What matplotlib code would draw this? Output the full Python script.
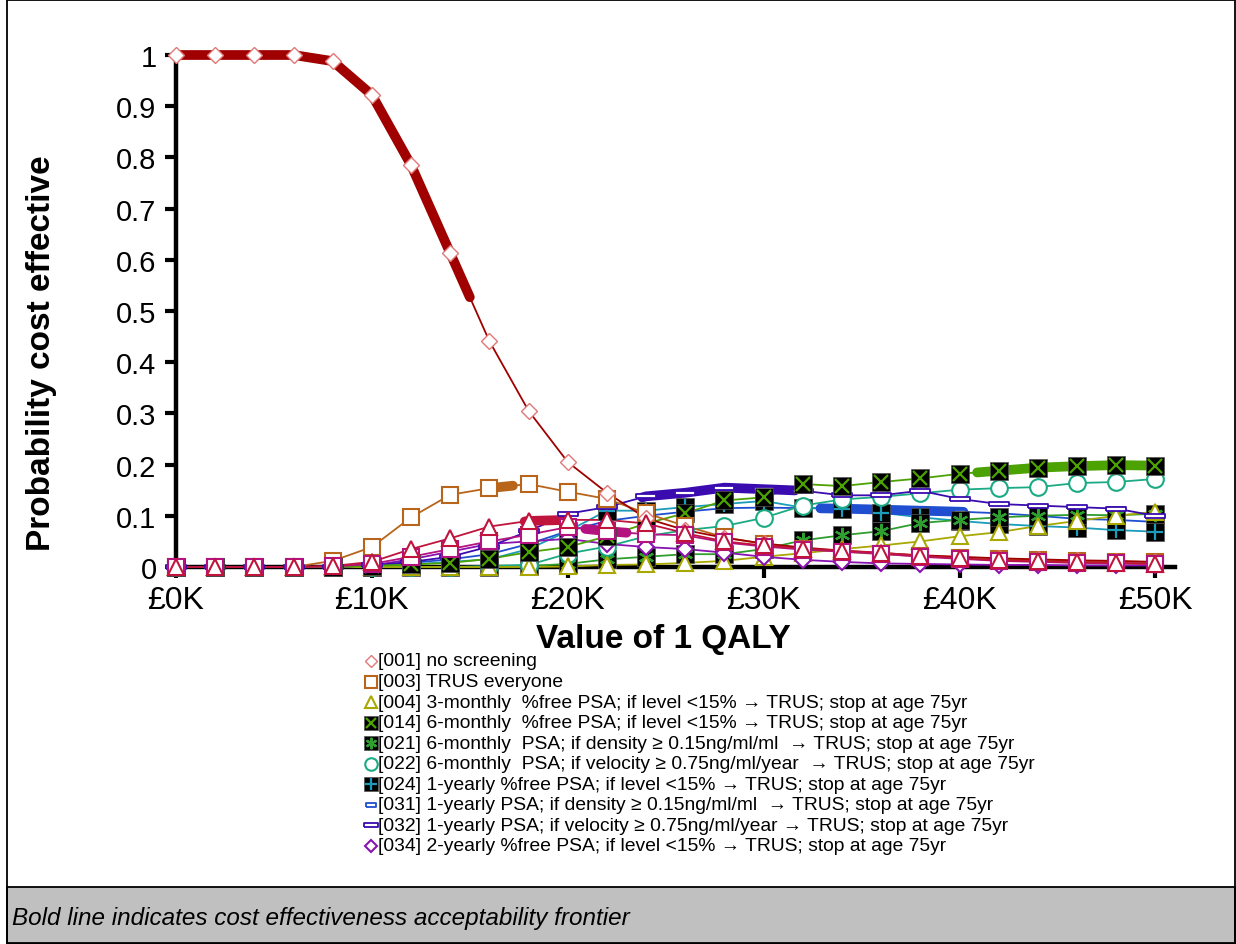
import numpy as np
import matplotlib
matplotlib.use("Agg")
import matplotlib.pyplot as plt
from matplotlib.patches import Rectangle

plt.rcParams['font.family'] = ['Liberation Sans', 'DejaVu Sans']

# Willingness to pay per QALY, in £ thousands
wtp_k = [0, 2, 4, 6, 8, 10, 12, 14, 16, 18, 20, 22, 24, 26, 28, 30, 32, 34, 36, 38, 40, 42, 44, 46, 48, 50]

# Probability that each strategy is cost effective
p001 = [1, 1, 1, 1, 0.988, 0.922, 0.785, 0.613, 0.441, 0.305, 0.205, 0.145, 0.095, 0.072, 0.057, 0.046, 0.038, 0.032, 0.027, 0.023, 0.020, 0.017, 0.015, 0.013, 0.012, 0.010]
p003 = [0, 0, 0, 0, 0.012, 0.039, 0.097, 0.141, 0.154, 0.162, 0.147, 0.133, 0.105, 0.080, 0.058, 0.045, 0.036, 0.030, 0.025, 0.021, 0.018, 0.015, 0.013, 0.011, 0.010, 0.009]
p004 = [0, 0, 0, 0, 0, 0, 0, 0, 0, 0, 0.001, 0.004, 0.005, 0.008, 0.012, 0.020, 0.027, 0.035, 0.042, 0.050, 0.060, 0.068, 0.080, 0.090, 0.100, 0.108]
p014 = [0, 0, 0, 0, 0, 0.002, 0.005, 0.008, 0.016, 0.029, 0.039, 0.060, 0.085, 0.105, 0.130, 0.136, 0.162, 0.158, 0.166, 0.173, 0.182, 0.188, 0.194, 0.197, 0.199, 0.198]
p021 = [0, 0, 0, 0, 0, 0, 0, 0, 0, 0.002, 0.006, 0.015, 0.020, 0.025, 0.025, 0.035, 0.052, 0.062, 0.070, 0.086, 0.092, 0.097, 0.100, 0.102, 0.101, 0.104]
p022 = [0, 0, 0, 0, 0, 0, 0, 0, 0.002, 0.004, 0.026, 0.040, 0.060, 0.072, 0.080, 0.096, 0.120, 0.132, 0.137, 0.144, 0.151, 0.154, 0.156, 0.164, 0.166, 0.172]
p024 = [0, 0, 0, 0, 0, 0, 0.005, 0.010, 0.015, 0.035, 0.070, 0.110, 0.110, 0.117, 0.123, 0.129, 0.116, 0.113, 0.106, 0.097, 0.090, 0.084, 0.080, 0.077, 0.072, 0.069]
p031 = [0, 0, 0, 0, 0, 0.003, 0.008, 0.015, 0.025, 0.045, 0.070, 0.090, 0.100, 0.108, 0.115, 0.116, 0.115, 0.114, 0.112, 0.110, 0.108, 0.105, 0.100, 0.094, 0.092, 0.088]
p032 = [0, 0, 0, 0, 0, 0.003, 0.010, 0.020, 0.040, 0.070, 0.104, 0.117, 0.138, 0.145, 0.155, 0.152, 0.149, 0.140, 0.140, 0.149, 0.133, 0.123, 0.120, 0.117, 0.114, 0.100]
p034 = [0, 0, 0, 0, 0, 0.003, 0.015, 0.030, 0.045, 0.050, 0.055, 0.045, 0.039, 0.035, 0.028, 0.020, 0.014, 0.010, 0.007, 0.006, 0.005, 0.004, 0.004, 0.003, 0.003, 0.003]
p_tri = [0, 0, 0, 0, 0.002, 0.010, 0.035, 0.056, 0.079, 0.090, 0.092, 0.092, 0.085, 0.066, 0.050, 0.042, 0.036, 0.032, 0.028, 0.022, 0.017, 0.013, 0.011, 0.009, 0.008, 0.006]
p_sq = [0, 0, 0, 0, 0.001, 0.006, 0.020, 0.035, 0.050, 0.063, 0.078, 0.070, 0.064, 0.062, 0.048, 0.040, 0.034, 0.030, 0.026, 0.020, 0.016, 0.012, 0.010, 0.008, 0.007, 0.006]

legend_labels = [
    "[001] no screening",
    "[003] TRUS everyone",
    "[004] 3-monthly  %free PSA; if level <15% \u2192 TRUS; stop at age 75yr",
    "[014] 6-monthly  %free PSA; if level <15% \u2192 TRUS; stop at age 75yr",
    "[021] 6-monthly  PSA; if density \u2265 0.15ng/ml/ml  \u2192 TRUS; stop at age 75yr",
    "[022] 6-monthly  PSA; if velocity \u2265 0.75ng/ml/year  \u2192 TRUS; stop at age 75yr",
    "[024] 1-yearly %free PSA; if level <15% \u2192 TRUS; stop at age 75yr",
    "[031] 1-yearly PSA; if density \u2265 0.15ng/ml/ml  \u2192 TRUS; stop at age 75yr",
    "[032] 1-yearly PSA; if velocity \u2265 0.75ng/ml/year \u2192 TRUS; stop at age 75yr",
    "[034] 2-yearly %free PSA; if level <15% \u2192 TRUS; stop at age 75yr",
]

# Cost effectiveness acceptability frontier: (series, from £K, to £K)
frontier = [("p001", 0, 15.0), ("p003", 16.3, 17.2), ("p_tri", 17.8, 19.8),
            ("p_sq", 20.9, 23.0), ("p032", 23.8, 31.6), ("p031", 32.9, 40.2),
            ("p014", 40.9, 50)]

short_dash = [(-1, -0.35), (1, -0.35), (1, 0.35), (-1, 0.35), (-1, -0.35)]
long_dash = [(-1, -0.22), (1, -0.22), (1, 0.22), (-1, 0.22), (-1, -0.22)]

# line colour and stacked marker layers: (marker, size, face, edge, edge width)
styles = {
    "p001": ("#A00000", [("D", 8, "white", "#E07878", 1.0)]),
    "p003": ("#B8651B", [("s", 12, "white", "#B8651B", 1.5)]),
    "p004": ("#A8A800", [("^", 12, "white", "#A8A800", 1.5)]),
    "p014": ("#4CA200", [("s", 13, "black", "#555555", 0.5), ("x", 10, "none", "#4CA200", 1.6)]),
    "p021": ("#2E9E2E", [("s", 13, "black", "#555555", 0.5), ((6, 2, 0), 11, "none", "#2E9E2E", 1.6)]),
    "p022": ("#1AAA84", [("o", 12, "white", "#1AAA84", 1.5)]),
    "p024": ("#1A9CBA", [("s", 13, "black", "#555555", 0.5), ("+", 11, "none", "#1A9CBA", 1.6)]),
    "p031": ("#1F4FD0", [(short_dash, 9, "white", "#1F4FD0", 1.3)]),
    "p032": ("#3A0CB0", [(long_dash, 14, "white", "#3A0CB0", 1.3)]),
    "p034": ("#8A12B0", [("D", 8.5, "white", "#8A12B0", 1.5)]),
    "p_sq": ("#B4127E", [("s", 12, "white", "#B4127E", 1.5)]),
    "p_tri": ("#C0143C", [("^", 12, "white", "#C0143C", 1.5)]),
}
series = {"p001": p001, "p003": p003, "p004": p004, "p014": p014, "p021": p021,
          "p022": p022, "p024": p024, "p031": p031, "p032": p032, "p034": p034,
          "p_sq": p_sq, "p_tri": p_tri}
legend_keys = ["p001", "p003", "p004", "p014", "p021", "p022", "p024", "p031", "p032", "p034"]

fig = plt.figure(figsize=(12.36, 9.45), dpi=100)
ax = fig.add_axes([176 / 1236, 1 - 568 / 945, 999 / 1236, 512 / 945])

x = np.array(wtp_k, dtype=float)
draw_order = ["p031", "p024", "p021", "p022", "p004", "p034", "p032", "p014", "p003", "p001", "p_sq", "p_tri"]

for key in draw_order:
    color, _ = styles[key]
    ax.plot(x, series[key], color=color, lw=1.3, zorder=3, clip_on=False)

for key, a, b in frontier:
    y = np.array(series[key], dtype=float)
    xs = np.concatenate([[a], x[(x > a) & (x < b)], [b]])
    ax.plot(xs, np.interp(xs, x, y), color=styles[key][0], lw=7,
            solid_capstyle="round", zorder=4, clip_on=False)

for key in draw_order:
    for mk, ms, fc, ec, mew in styles[key][1]:
        ax.plot(x, series[key], linestyle="none", marker=mk, markersize=ms,
                markerfacecolor=fc, markeredgecolor=ec, markeredgewidth=mew,
                zorder=5, clip_on=False)

ax.set_xlim(0, 51)
ax.set_ylim(0, 1)
ax.set_xticks([0, 10, 20, 30, 40, 50])
ax.set_xticklabels(["\u00a30K", "\u00a310K", "\u00a320K", "\u00a330K", "\u00a340K", "\u00a350K"])
ax.set_yticks([0, 0.1, 0.2, 0.3, 0.4, 0.5, 0.6, 0.7, 0.8, 0.9, 1])
ax.set_yticklabels(["0", "0.1", "0.2", "0.3", "0.4", "0.5", "0.6", "0.7", "0.8", "0.9", "1"])
ax.tick_params(axis="both", direction="out", length=8, width=3, labelsize=23, pad=5)
ax.tick_params(axis="y", labelsize=21, pad=6)
for side in ("top", "right"):
    ax.spines[side].set_visible(False)
for side in ("left", "bottom"):
    ax.spines[side].set_linewidth(3.2)
    ax.spines[side].set_zorder(2)
ax.set_ylabel("Probability cost effective", fontsize=24, fontweight="bold")
ax.yaxis.set_label_coords(-0.119, 0.42)
ax.set_xlabel("Value of 1 QALY", fontsize=24, fontweight="bold")
ax.xaxis.set_label_coords(0.4875, -0.14)
ax.xaxis.label.set_va("center")

# Legend block beneath the axes
lg = fig.add_axes([0, 0, 1, 1], facecolor="none")
lg.set_xlim(0, 1236)
lg.set_ylim(945, 0)
lg.axis("off")
row0, step = 662, 20.55
for i, key in enumerate(legend_keys):
    yy = row0 + i * step
    for mk, ms, fc, ec, mew in styles[key][1]:
        lg.plot([371], [yy], linestyle="none", marker=mk, markersize=ms * 0.75,
                markerfacecolor=fc, markeredgecolor=ec, markeredgewidth=mew)
    lg.text(378, yy, legend_labels[i], fontsize=13.85, va="center", ha="left")

# Caption band and outer frame
lg.add_patch(Rectangle((7, 888), 1228, 57, facecolor="#C0C0C0", edgecolor="black", lw=1.3))
lg.add_patch(Rectangle((7, 1), 1228, 943, facecolor="none", edgecolor="black", lw=1.3))
lg.text(12, 918, "Bold line indicates cost effectiveness acceptability frontier",
        fontsize=17.5, style="italic", va="center", ha="left")

fig.savefig("out.png", dpi=100)
